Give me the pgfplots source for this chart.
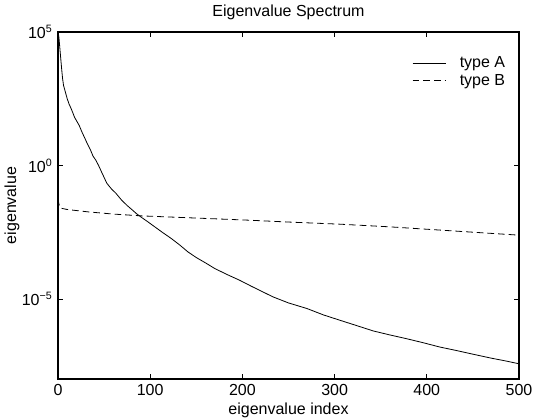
\documentclass[border=0pt]{standalone}
\usepackage{pgfplots}
\pgfplotsset{compat=1.18}
\usepackage{fontspec}
\setmainfont{Liberation Sans}
\begin{document}
\fontsize{12}{14}\selectfont
\begin{tikzpicture}
\begin{axis}[
  scale only axis,
  width=345.75pt, height=260.25pt,
  ymode=log,
  xmin=0, xmax=500, ymin=1e-8, ymax=1e5,
  xtick={0,100,200,300,400,500},
  ytick={1e-5,1,1e5},
  yticklabels={10\textsuperscript{−5},10\textsuperscript{0},10\textsuperscript{5}},
  /pgf/number format/assume math mode=true,
  tick label style={font=\fontsize{12}{14}\selectfont},
  major tick length=3.5pt,
  axis line style={line width=0.8pt},
  every tick/.style={black, line width=0.6pt},
  xlabel={eigenvalue index},
  xlabel style={at={(axis description cs:0.5,-0.09)}, anchor=center, font=\fontsize{12}{14}\selectfont},
  ylabel={eigenvalue},
  ylabel style={at={(axis description cs:-0.1,0.5)}, anchor=center, font=\fontsize{12}{14}\selectfont},
  legend style={draw=none, fill=none, at={(axis description cs:0.985,0.945)}, anchor=north east, font=\fontsize{12}{14}\selectfont, row sep=-1pt, /tikz/every odd column/.append style={column sep=8pt}},
  legend cell align=left,
  legend image code/.code={\draw[#1] (0pt,0pt) -- (25pt,0pt);},
  clip=false,
]
\addplot[black, line width=0.6pt] coordinates {
(0,1e5) (1,6.3e4) (2,2.5e4) (3,1e4) (4,3.98e3) (5,1.78e3) (6,1e3) (8,562) (10,316) (12,200) (14,141) (16,95.5) (18,63.1) (20,47.9) (23,31.6) (26,17.8) (29,10.7) (32,6.31) (35,3.98) (38,2.24) (41,1.58) (44,1.0) (48,0.5) (53,0.214) (58,0.132) (63,0.0891) (69,0.0501) (75,0.0316) (80,0.0224) (85,0.0158) (90,0.0117) (97,7.94e-3) (105,5.01e-3) (113,3.16e-3) (123,1.82e-3) (132,1.05e-3) (141,5.75e-4) (150,3.55e-4) (160,2.24e-4) (170,1.38e-4) (183,8.32e-5) (197,5.01e-5) (210,2.95e-5) (220,2.0e-5) (233,1.2e-5) (250,7.08e-6) (270,4.37e-6) (288,2.51e-6) (306,1.58e-6) (324,1.0e-6) (342,6.31e-7) (360,4.47e-7) (378,3.24e-7) (396,2.29e-7) (414,1.58e-7) (432,1.17e-7) (450,8.51e-8) (470,6.03e-8) (485,4.79e-8) (500,3.72e-8)
};
\addlegendentry{type A}
\addplot[black, line width=0.6pt, dash pattern=on 5pt off 3pt] coordinates {
(0,0.0562) (1,0.0355) (3,0.0251) (10,0.0224) (33,0.0182) (60,0.0151) (91,0.0129) (150,0.0107) (207,8.91e-3) (250,7.59e-3) (306,6.31e-3) (360,5.01e-3) (414,3.8e-3) (450,3.16e-3) (500,2.45e-3)
};
\addlegendentry{type B}
\node[anchor=center, font=\fontsize{12}{14}\selectfont] at (axis description cs:0.5,1.058) {Eigenvalue Spectrum};
\end{axis}
\pgfresetboundingbox
\path ([shift={(-43.5pt,-29.25pt)}]current axis.south west) rectangle ([shift={(12pt,24pt)}]current axis.north east);
\end{tikzpicture}
\end{document}
